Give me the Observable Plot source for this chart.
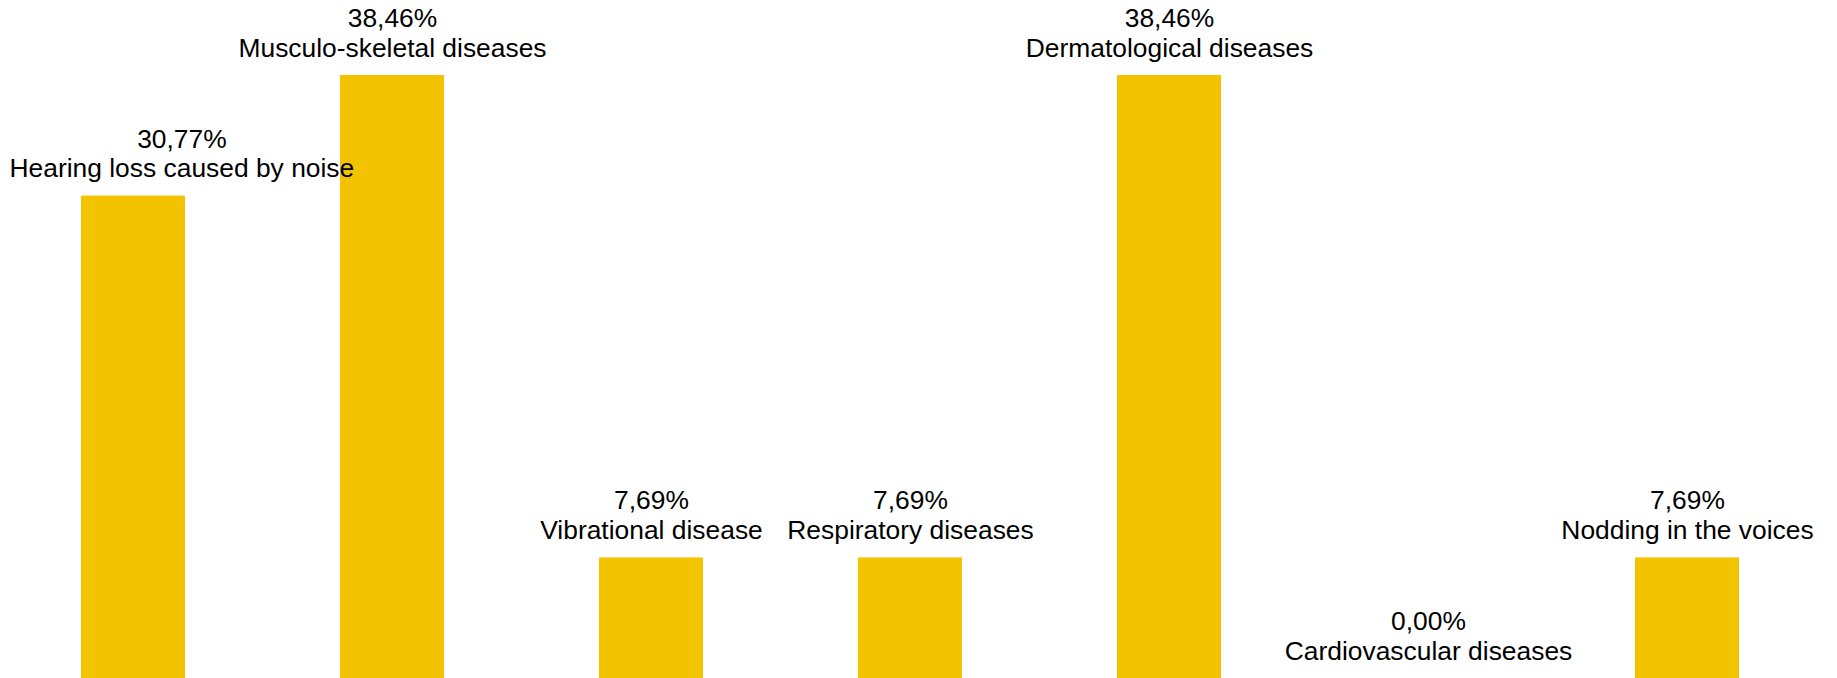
<!DOCTYPE html>
<html>
<head>
<meta charset="utf-8">
<script src="https://cdn.jsdelivr.net/npm/d3@7"></script>
<script src="https://cdn.jsdelivr.net/npm/@observablehq/plot@0.6"></script>
<style>
  html, body { margin: 0; padding: 0; background: #ffffff; }
  #chart svg { display: block; }
  #chart svg text, #chart svg tspan { text-anchor: middle; }
</style>
</head>
<body>
<div id="chart"></div>
<script>
const categories = [
  "Hearing loss caused by noise",
  "Musculo-skeletal diseases",
  "Vibrational disease",
  "Respiratory diseases",
  "Dermatological diseases",
  "Cardiovascular diseases",
  "Nodding in the voices"
];
const values = [30.77, 38.46, 7.69, 7.69, 38.46, 0.00, 7.69];

const fmt = v => d3.format(".2f")(v).replace(".", ",") + "%";
const data = categories.map((c, i) => ({category: c, value: values[i], valueLabel: fmt(values[i])}));

const FONT_SIZE = 26.4;
const FONT_FAMILY = "'Liberation Sans', Arial, sans-serif";
const LEFT_LIMIT = 9;

// measure label widths with the same SVG text rendering as the chart
const measureSvg = d3.select("body").append("svg").attr("width", 10).attr("height", 10)
  .style("position", "absolute").style("left", "-9999px").style("top", "0");
const widths = categories.map(c => {
  const t = measureSvg.append("text").attr("font-family", FONT_FAMILY).attr("font-size", FONT_SIZE).text(c);
  return t.node().getComputedTextLength();
});
measureSvg.remove();

// shift a label box (value + name) right if it would cross the left edge
// (channels.x holds band starts; Plot adds half the bandwidth when drawing)
const clampLeft = (index, scales, channels, dimensions, context, next) => {
  const X = Float64Array.from(channels.x);
  const half = scales.x && scales.x.bandwidth ? scales.x.bandwidth() / 2 : 0;
  for (const i of index) {
    const minCenter = LEFT_LIMIT + widths[i] / 2;
    if (X[i] + half < minCenter) X[i] = minCenter - half;
  }
  return next(index, scales, {...channels, x: X}, dimensions, context);
};

const textStyle = {fontSize: FONT_SIZE, fill: "#000000", textAnchor: "middle", lineAnchor: "bottom", render: clampLeft};

const chart = Plot.plot({
  width: 1837,
  height: 678,
  marginTop: 75,
  marginBottom: 0,
  marginLeft: 2,
  marginRight: 20,
  style: {fontFamily: FONT_FAMILY, background: "#ffffff"},
  x: {domain: categories, paddingInner: 0.6, paddingOuter: 0.3, axis: null},
  y: {domain: [0, 38.46], axis: null},
  marks: [
    Plot.barY(data, {x: "category", y: "value", fill: "#F4C300"}),
    Plot.text(data, {x: "category", y: "value", text: "valueLabel", dy: -48.5, ...textStyle}),
    Plot.text(data, {x: "category", y: "value", text: "category", dy: -19, ...textStyle})
  ]
});
document.getElementById("chart").append(chart);
chart.querySelectorAll("text, tspan").forEach(t => t.setAttribute("text-anchor", "middle"));
</script>
</body>
</html>
